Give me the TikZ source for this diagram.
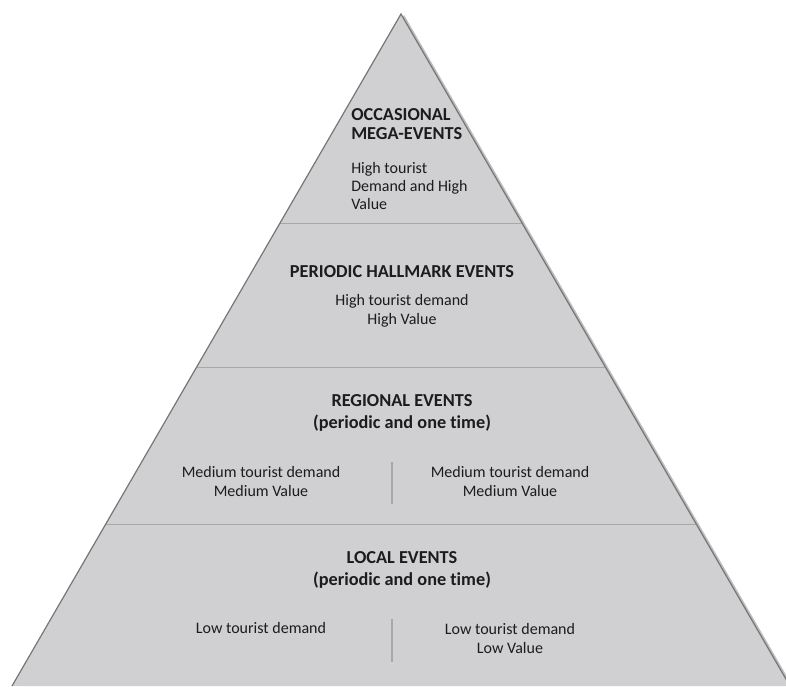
\documentclass[tikz,border=0pt]{standalone}
\usepackage{fontspec}
\setmainfont[Ligatures=NoCommon]{Carlito}
\usetikzlibrary{calc}
\definecolor{pyrfill}{RGB}{208,207,209}
\definecolor{pyredge}{RGB}{118,118,118}
\definecolor{pyrline}{RGB}{168,168,168}
\definecolor{pyrshadow}{RGB}{190,190,190}
\definecolor{txt}{RGB}{28,28,28}
\begin{document}
\begin{tikzpicture}[x=0.75pt,y=-0.75pt,
  ttl/.style={font=\fontsize{13.7}{16}\selectfont\bfseries, text=txt, align=center, inner sep=0pt},
  body/.style={font=\fontsize{12}{14.25}\selectfont, text=txt, align=center, inner sep=0pt},
  ttltight/.style={ttl, font=\fontsize{13.7}{13.8}\selectfont\bfseries},
  bodytight/.style={body, font=\fontsize{12}{13.3}\selectfont},
  sepline/.style={draw=pyrline, line width=1.2pt},
  divline/.style={draw=pyrline, line width=0.9pt}]
\useasboundingbox (0,0) rectangle (786,686);
\coordinate (apex) at (401,14);
\coordinate (bl) at (12,686);
\coordinate (br) at (790,686);
% shadow on the right edge
\draw[pyrshadow, line width=2.2pt] ($(apex)+(2,2)$) -- ($(br)+(2,2)$);
\fill[pyrfill] (apex) -- (br) -- (bl) -- cycle;
% horizontal separators
\draw[sepline] ($(apex)!0.3118!(bl)$) -- ($(apex)!0.3118!(br)$);
\draw[sepline] ($(apex)!0.5263!(bl)$) -- ($(apex)!0.5263!(br)$);
\draw[sepline] ($(apex)!0.7597!(bl)$) -- ($(apex)!0.7597!(br)$);
% outline
\draw[pyredge, line width=0.9pt, line join=miter] (bl) -- (apex) -- (br);
% texts
\node[ttltight, align=left, anchor=west] (megaT) at (351,124) {OCCASIONAL\\MEGA-EVENTS};
\node[bodytight, align=left, anchor=west] (megaB) at (351,186) {High tourist\\Demand and High\\Value};
\node[ttl] (hallT) at (402,272) {PERIODIC HALLMARK EVENTS};
\node[body] (hallB) at (402,311) {High tourist demand\\High Value};
\node[ttl] (regT) at (402,413) {REGIONAL EVENTS\\(periodic and one time)};
\node[body] (regL) at (261,481) {Medium tourist demand\\Medium Value};
\node[body] (regR) at (510,481) {Medium tourist demand\\Medium Value};
\coordinate (rd1) at (392,462);
\coordinate (rd2) at (392,504);
\draw[divline] (rd1) -- (rd2);
\node[ttl] (locT) at (402,570) {LOCAL EVENTS\\(periodic and one time)};
\node[body] (locL) at (261,628) {Low tourist demand};
\node[body] (locR) at (510,638) {Low tourist demand\\Low Value};
\coordinate (ld1) at (392,619);
\coordinate (ld2) at (392,662);
\draw[divline] (ld1) -- (ld2);
\end{tikzpicture}
\end{document}
